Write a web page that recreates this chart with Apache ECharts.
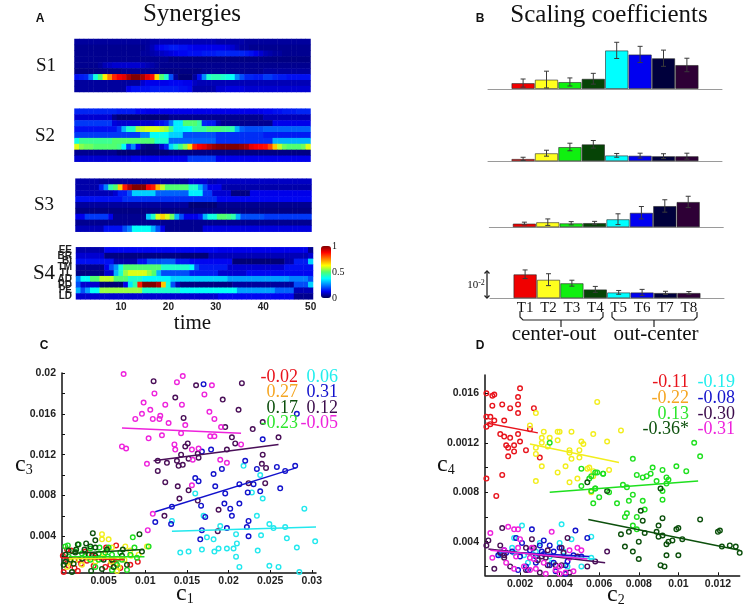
<!DOCTYPE html>
<html lang="en">
<head>
    <meta charset="UTF-8">
    <title>Synergies and scaling coefficients</title>
    <script src="https://cdn.jsdelivr.net/npm/echarts@6/dist/echarts.min.js"></script>
    <style>
        html, body { margin: 0; padding: 0; background: #fff; }
        #main { width: 751px; height: 611px; }
    </style>
</head>
<body>
<div id="main"></div>
<script type="text/javascript">
// synergy maps, 9 muscles x 50 time samples, in percent of the colour scale
var muscles = ['EE', 'BR', 'BI', 'TM', 'TL', 'AD', 'PD', 'PE', 'LD'];
var s1 = [
    [6,6,6,6,6,6,6,6,6,6, 6,6,6,6,6,6,7,7,8,8, 8,8,8,8,8,8,8,8,8,8, 7,7,7,7,7,7,6,6,6,6, 6,6,6,6,6,6,6,6,6,6],
    [5,5,5,5,5,5,5,5,5,5, 5,5,5,5,5,6,8,11,13,14, 15,15,14,14,13,12,12,12,12,12, 12,12,11,10,8,6,6,5,5,5, 5,5,5,5,5,5,5,5,5,5],
    [5,5,5,5,5,5,5,5,5,5, 5,5,5,5,6,6,7,8,9,10, 11,12,13,13,14,14,14,15,15,15, 16,16,16,16,16,16,15,14,12,10, 8,7,6,6,5,5,5,5,5,5],
    [5,5,5,5,5,5,5,5,5,5, 5,5,5,5,5,5,5,5,5,5, 4,4,4,4,4,4,4,4,4,4, 4,4,4,4,4,4,4,4,4,4, 4,4,4,4,4,4,4,4,4,4],
    [5,5,5,5,5,6,8,9,10,10, 10,10,10,10,9,8,7,6,5,5, 5,5,5,5,5,5,5,5,5,5, 5,5,5,5,5,5,5,5,5,5, 5,5,5,5,5,5,5,5,5,5],
    [4,4,4,4,4,4,4,4,4,4, 5,5,5,5,5,5,5,5,4,4, 4,4,4,4,4,4,4,5,5,5, 5,5,5,5,5,5,5,5,5,5, 6,6,6,6,6,6,6,6,6,6],
    [14,15,16,24,40,50,64,74,84,88, 90,96,100,100,96,90,86,66,50,42, 20,6,3,3,3,6,14,26,42,44, 44,42,40,38,26,20,16,16,15,15, 18,18,16,15,15,14,14,14,14,14],
    [6,6,6,6,6,6,6,6,6,6, 6,6,6,6,10,12,12,12,12,12, 13,13,13,12,12,9,8,8,8,8, 8,8,8,8,8,8,8,8,8,8, 8,8,8,8,8,8,8,8,8,8],
    [6,6,6,6,6,6,6,6,6,6, 6,12,14,14,14,14,15,15,15,15, 15,15,14,14,13,7,7,7,7,7, 10,10,11,11,11,11,10,10,10,10, 10,10,10,10,10,10,10,10,10,10]
];
var s2 = [
    [16,16,16,16,16,16,16,16,16,15, 15,15,15,13,13,12,12,12,12,12, 12,12,12,12,12,12,12,12,12,12, 12,12,12,12,12,12,12,12,12,12, 13,13,14,14,15,15,15,16,16,16],
    [10,10,10,10,10,10,10,10,5,3, 3,3,3,3,3,3,3,3,3,3, 5,5,5,5,5,5,5,5,5,5, 5,5,5,5,5,5,5,5,5,5, 8,8,8,8,8,8,8,8,8,8],
    [18,18,18,18,18,18,18,18,11,10, 10,10,10,10,10,10,10,12,14,16, 24,36,36,50,50,50,46,16,15,15, 8,5,5,5,5,5,5,5,5,5, 5,5,12,12,12,12,12,12,12,12],
    [14,14,14,14,14,14,14,14,14,18, 30,42,42,56,58,60,60,60,58,56, 48,36,36,37,38,45,46,46,50,50, 50,48,47,45,30,22,20,20,20,20, 22,22,22,22,22,22,22,22,22,22],
    [18,18,18,18,18,18,18,18,18,18, 18,18,18,18,25,25,38,38,39,38, 33,33,33,20,20,20,20,20,20,20, 17,17,17,17,17,17,17,17,17,17, 15,15,15,15,15,15,15,15,15,15],
    [40,47,47,47,47,47,47,47,50,50, 50,50,50,50,50,50,50,42,42,42, 22,22,22,22,22,22,22,22,22,22, 17,17,17,17,17,17,17,17,17,17, 17,17,30,30,30,30,30,30,30,30],
    [60,54,52,52,50,50,50,50,50,48, 38,18,26,12,5,4,4,5,10,16, 34,42,48,54,66,84,88,90,94,97, 99,100,100,100,100,98,96,90,88,87, 86,80,68,58,52,50,50,50,52,60],
    [5,5,5,5,5,5,5,5,5,3, 3,3,3,3,3,3,3,3,3,3, 4,4,4,4,4,4,4,4,4,4, 4,4,4,4,4,4,4,4,4,4, 4,4,4,4,4,4,4,4,4,4],
    [10,10,10,10,10,10,10,10,10,10, 10,10,12,12,12,12,12,12,12,12, 12,12,12,12,18,18,18,18,18,18, 12,12,12,12,12,12,12,12,12,12, 12,12,12,12,12,12,12,12,12,12]
];
var s3 = [
    [7,7,7,7,7,6,6,6,6,6, 6,6,6,6,6,6,6,6,6,6, 6,6,6,6,10,10,10,10,8,8, 9,9,9,9,9,9,9,9,9,9, 9,9,9,9,9,9,9,9,9,9],
    [7,7,7,7,7,15,25,45,50,67, 85,95,100,100,100,88,85,70,58,50, 50,50,50,50,42,42,30,20,12,12, 12,7,7,7,7,7,7,7,7,7, 7,7,7,7,7,7,7,7,7,7],
    [8,8,8,8,8,8,8,8,10,15, 15,20,33,33,33,33,33,22,22,22, 22,22,22,22,36,36,36,18,18,10, 10,10,10,4,4,4,4,12,12,12, 12,12,12,12,12,12,12,12,12,12],
    [14,14,14,14,14,14,14,14,14,14, 17,17,17,17,17,17,17,17,17,17, 17,17,17,17,17,17,17,17,17,17, 13,13,13,13,13,13,13,13,13,13, 13,13,13,13,13,13,13,13,13,13],
    [6,6,6,6,6,6,6,6,6,6, 6,6,6,6,6,6,6,6,6,6, 6,6,6,6,3,3,3,3,3,3, 5,5,5,5,5,5,5,5,5,5, 5,5,5,5,5,5,5,5,5,5],
    [4,4,4,4,4,4,4,4,4,4, 4,4,4,4,4,4,4,4,4,4, 4,4,4,4,4,4,4,4,4,4, 4,4,4,4,4,4,4,4,4,4, 4,4,4,4,4,4,4,4,4,4],
    [12,12,18,18,18,18,18,12,5,5, 5,5,5,5,5,32,42,60,67,60, 52,30,20,12,12,12,15,30,40,40, 50,50,48,45,30,20,20,20,20,20, 18,18,18,18,18,18,18,18,18,18],
    [5,5,5,5,5,5,5,5,5,5, 5,5,5,5,5,5,5,5,5,5, 5,5,5,5,5,5,5,5,5,5, 5,5,5,5,5,5,5,5,5,5, 5,5,5,5,5,5,5,5,5,5],
    [8,8,8,8,8,8,14,14,14,14, 20,25,38,38,38,38,30,20,12,5, 5,5,5,5,5,5,5,11,11,11, 11,11,11,11,11,11,11,11,11,11, 11,11,11,11,11,11,11,11,11,11]
];
var s4 = [
    [7,7,7,7,7,7,13,13,13,13, 13,13,13,13,13,13,13,13,13,13, 13,13,13,13,13,13,13,13,13,13, 12,12,12,12,12,12,12,12,12,12, 12,12,12,12,12,12,12,12,12,5],
    [10,10,10,10,10,10,4,4,4,4, 4,4,4,4,4,4,4,4,4,4, 4,4,3,3,3,3,3,3,8,8, 8,8,8,8,8,8,8,8,8,8, 8,8,8,8,8,8,8,8,8,10],
    [14,14,14,14,14,14,14,14,7,7, 7,7,7,14,14,20,20,20,22,22, 22,15,15,15,13,13,13,13,13,13, 13,13,13,3,3,3,3,3,3,3, 3,3,3,3,7,7,15,15,15,33],
    [5,5,5,5,5,5,12,20,27,40, 50,50,50,50,50,50,50,50,42,42, 42,42,42,42,38,20,15,15,15,15, 15,15,10,10,10,10,10,10,10,10, 10,10,10,10,14,14,14,14,14,14],
    [4,4,4,4,4,4,10,10,30,42, 55,60,60,60,60,55,50,30,20,20, 20,20,20,20,15,15,15,15,15,15, 10,10,10,10,10,10,13,13,13,13, 13,13,13,13,13,13,13,13,13,13],
    [25,38,38,50,50,58,58,58,50,50, 50,42,42,42,37,37,37,37,37,37, 33,33,33,33,33,33,33,33,33,33, 33,33,28,28,28,28,28,28,28,28, 28,28,28,28,28,25,25,25,25,20],
    [20,10,10,10,10,3,3,3,3,3, 12,35,45,85,100,100,100,95,68,40, 20,8,4,4,4,4,4,4,4,4, 4,4,4,6,6,6,6,6,6,6, 6,6,6,6,6,6,20,20,20,33],
    [30,20,28,38,38,55,55,55,55,55, 55,55,55,55,42,42,42,42,42,42, 42,42,38,38,38,38,38,38,38,38, 38,38,38,38,28,28,28,28,28,28, 28,28,22,22,22,22,8,8,8,8],
    [10,10,10,10,10,10,10,10,10,10, 10,10,10,10,10,10,10,10,10,10, 10,10,10,10,10,10,10,10,10,10, 13,13,13,13,13,13,13,13,13,13, 13,13,13,13,13,13,5,5,5,5]
];
var colorbarTicks = [0, 0.5, 1];

// scaling coefficients
var trials = ['', 'T1', 'T2', 'T3', 'T4', 'T5', 'T6', 'T7', 'T8', ''];
var bar1Vals = [0.0022, 0.0035, 0.0026, 0.0038, 0.0143, 0.0128, 0.0114, 0.0089];
var bar1Errs = [0.0015, 0.0031, 0.0015, 0.002, 0.003, 0.003, 0.003, 0.0025];
var bar2Vals = [0.0009, 0.003, 0.0053, 0.0063, 0.0022, 0.0021, 0.0019, 0.0019];
var bar2Errs = [0.0006, 0.0011, 0.0014, 0.0014, 0.0007, 0.0009, 0.0009, 0.0011];
var bar3Vals = [0.0014, 0.0019, 0.0015, 0.0016, 0.003, 0.0054, 0.0079, 0.0094];
var bar3Errs = [0.0005, 0.0012, 0.0006, 0.0006, 0.002, 0.0023, 0.0023, 0.0021];
var bar4Vals = [0.0089, 0.0069, 0.0056, 0.0033, 0.0022, 0.0022, 0.002, 0.002];
var bar4Errs = [0.0016, 0.0022, 0.0011, 0.0011, 0.0007, 0.0011, 0.0006, 0.0005];
var barColors = ['#f00000', '#ffff1e', '#10f010', '#064406', '#00ffff', '#0000f0', '#00003c', '#2e0036'];

// panel C, c1 vs c3
var cRed = [[.0065,.0031],[.0053,.0029],[.0011,.0026],[.0006,.0027],[.0001,.0021],[.0028,.0025],[.0006,.0017],[.0091,.0015],[.0065,.0013],[.0036,.0021],[.003,.0016],[.0048,.0018],[.004,.0019],[.0062,.0017],[.002,.0017],[.0008,.0011],[.0015,.0009],[.0019,.0006],[.0002,.0005],[.0038,.0011],[.0052,.001],[.0082,.0012],[.0058,.0012],[.0023,.0013],[.007,.0009]];
var cYellow = [[.0048,.0042],[.0056,.0037],[.0048,.0037],[.0102,.003],[.0076,.003],[.0082,.0026],[.0092,.0022],[.0083,.0021],[.006,.0029],[.005,.0023],[.0006,.001],[.0016,.0017],[.0032,.0018],[.004,.0015],[.0024,.0012],[.0059,.0015],[.0068,.001],[.001,.0015],[.0066,.0006],[.0075,.0017]];
var cGreen = [[.0085,.0039],[.0104,.003],[.0087,.0029],[.0004,.003],[.0007,.0031],[.002,.0032],[.0034,.0028],[.0045,.0029],[.0052,.0024],[.007,.0024],[.0082,.0022],[.0056,.0029],[.0016,.0025],[.0044,.0023],[.0028,.0021],[.009,.0019],[.0055,.002],[.0008,.002],[.0067,.0018],[.0072,.0017],[.006,.0022],[.0034,.0017],[.0044,.0017],[.0078,.0007],[.0066,.0012],[.004,.001],[.006,.0007],[.0024,.0023]];
var cDarkGreen = [[.0037,.0043],[.0093,.0042],[.004,.0036],[.0029,.0033],[.0019,.0032],[.0034,.003],[.0008,.0026],[.0017,.0027],[.0027,.0027],[.004,.0029],[.0016,.0024],[.0004,.0022],[.0032,.0022],[.0073,.0027],[.0096,.0025],[.0072,.0021],[.004,.0021],[.0054,.0027],[.001,.0017],[.005,.0017],[.0004,.0015],[.0024,.0018],[.0078,.0012],[.0062,.001],[.0014,.0013],[.0048,.0008],[.0035,.0006],[.0002,.0012],[.0012,.0005],[.006,.0017]];
var cCyan = [[.016,.0082],[.017,.006],[.0132,.0055],[.019,.005],[.0209,.0042],[.0174,.0039],[.0182,.0037],[.021,.0033],[.0142,.0024],[.0152,.0025],[.0168,.0027],[.0183,.0025],[.0188,.0028],[.0198,.0028],[.0206,.0028],[.0209,.002],[.0213,.001],[.0218,.0109],[.0238,.01],[.0228,.0083],[.0241,.0077],[.0291,.0067],[.0234,.006],[.0249,.0052],[.0254,.0048],[.0268,.0049],[.0239,.0041],[.027,.0038],[.0304,.0035],[.0282,.0029],[.0235,.0026],[.0249,.0011],[.026,.001],[.0285,.0005]];
var cBlue = [[.017,.0189],[.0168,.0123],[.0179,.0125],[.0192,.0106],[.0182,.0101],[.016,.0097],[.0164,.0094],[.0184,.0089],[.0196,.0082],[.0213,.0091],[.0132,.0069],[.0167,.007],[.0195,.0072],[.0202,.0067],[.0213,.0072],[.0204,.006],[.0112,.0054],[.0131,.0052],[.0172,.0059],[.0198,.0048],[.0168,.0046],[.0166,.0037],[.0282,.016],[.0241,.0135],[.022,.0114],[.0258,.0108],[.0234,.0106],[.028,.0109],[.0268,.0104],[.023,.0091],[.0262,.0087],[.0238,.0084],[.0223,.0083],[.0224,.0055],[.0222,.0049],[.0224,.004]];
var cPurple = [[.011,.0192],[.0161,.0188],[.0193,.0174],[.0136,.0176],[.0212,.0164],[.0146,.0156],[.0196,.0147],[.0204,.0137],[.0208,.0131],[.0151,.0131],[.0148,.0128],[.0198,.0125],[.0143,.012],[.0163,.0121],[.0164,.0117],[.0152,.0116],[.0115,.0114],[.0126,.0112],[.0138,.0114],[.014,.0109],[.0145,.011],[.0115,.0104],[.0124,.0093],[.0139,.0089],[.0152,.0085],[.0163,.0075],[.0141,.0077],[.0188,.0066],[.0123,.006],[.0187,.0045],[.0216,.019],[.0241,.0152],[.0229,.0145],[.026,.0137],[.0241,.012],[.024,.0111],[.0245,.0107],[.0244,.0092],[.0224,.0092]];
var cMagenta = [[.0074,.0199],[.0145,.0197],[.0138,.0191],[.018,.0188],[.0111,.018],[.0171,.0179],[.0098,.0171],[.0124,.0169],[.0144,.0169],[.0106,.0164],[.0177,.0162],[.0096,.016],[.0088,.0155],[.0109,.0155],[.0117,.0155],[.0118,.0158],[.0183,.0155],[.0128,.0151],[.0148,.0149],[.0191,.0147],[.0143,.0141],[.012,.0139],[.0104,.0136],[.0178,.0138],[.0183,.0138],[.0072,.0128],[.0077,.0126],[.0135,.013],[.0136,.0125],[.0156,.0125],[.0164,.0126],[.0102,.0111],[.019,.0115],[.0198,.0112],[.0157,.0115],[.0156,.009],[.0109,.0062],[.0103,.0046],[.0215,.013]];
var cFits = [
    [[.0002, .0019], [.0075, .0017]],
    [[.0008, .0018], [.0075, .0019]],
    [[.0008, .002], [.0099, .002]],
    [[.001, .0023], [.0098, .0027]],
    [[.0132, .0045], [.0305, .0049]],
    [[.0112, .0064], [.0281, .0107]],
    [[.011, .0114], [.026, .013]],
    [[.0072, .0146], [.0215, .0141]]
];
var cXLabels = [.005, .01, .015, .02, .025, .03];
var cYLabels = [.004, .008, .012, .016, .02];
var cYTicks = [.002, .004, .006, .008, .01, .012, .014, .016, .018, .02];
var cCorrLeft = ['-0.02', '0.27', '0.17', '-0.23'];
var cCorrRight = ['0.06', '0.31', '0.12', '-0.05'];

// panel D, c2 vs c4
var dRed = [[.001,.0175],[.002,.0164],[.0003,.016],[.0006,.0158],[.0007,.0159],[.0019,.0157],[.0006,.015],[.0011,.0151],[.0019,.0151],[.0015,.0148],[.0027,.0148],[.0019,.0144],[.0005,.0141],[.0003,.0141],[.0007,.0138],[.0012,.0138],[.0005,.0135],[.0003,.0133],[.0025,.0131],[.001,.0127],[.0019,.0127],[.0012,.0125],[.0015,.0124],[.002,.0121],[.0013,.0118],[.0014,.0116],[.0017,.0118],[.0017,.0113],[.0023,.0114],[.0014,.0109],[.003,.0108],[.0011,.0094],[.0003,.0091],[.0008,.0077]];
var dYellow = [[.0059,.0153],[.0028,.0144],[.0025,.0134],[.0032,.0129],[.0039,.0129],[.004,.0129],[.0046,.0129],[.0057,.0127],[.0031,.0124],[.0035,.0124],[.0031,.012],[.0039,.0122],[.0051,.0121],[.0052,.0119],[.0064,.0121],[.0028,.0116],[.0034,.0117],[.0045,.0114],[.005,.0114],[.0045,.0112],[.0028,.0111],[.005,.0108],[.0046,.0107],[.0031,.0101],[.0043,.0101],[.0039,.0096],[.0055,.01],[.0054,.0099],[.0057,.0097],[.0065,.0098],[.0028,.0089],[.0049,.0091],[.0057,.0093],[.0045,.0088],[.0056,.008],[.0071,.013]];
var dGreen = [[.0108,.012],[.0111,.0109],[.0077,.0107],[.0087,.01],[.0092,.0098],[.0099,.0101],[.0104,.0097],[.0086,.0095],[.0079,.0094],[.0082,.0092],[.0084,.0093],[.0094,.0092],[.0095,.009],[.0089,.0089],[.0094,.0087],[.0062,.0095],[.0059,.0096],[.0056,.0093],[.0072,.0086],[.0074,.0084],[.0092,.0081],[.0058,.0083],[.0077,.0078],[.0056,.0081],[.006,.0076],[.0057,.0071],[.0069,.0071],[.0075,.0073],[.0082,.0073],[.0092,.0074],[.0083,.0066],[.0074,.0063],[.0073,.006],[.0079,.006],[.0077,.0053],[.0079,.005],[.0035,.012],[.0051,.0099],[.0058,.0096],[.0062,.0095],[.0055,.0091],[.0051,.0085],[.0058,.0083],[.0065,.008]];
var dDarkGreen = [[.0091,.0083],[.0064,.0081],[.0081,.0065],[.0092,.0059],[.0082,.0057],[.0111,.0058],[.009,.0053],[.01,.0051],[.0099,.005],[.0089,.0048],[.0075,.0048],[.0083,.0047],[.0071,.0046],[.012,.0048],[.0121,.0049],[.0092,.0045],[.009,.0044],[.0102,.0042],[.0097,.0041],[.0095,.004],[.0094,.0038],[.008,.004],[.0122,.0036],[.0126,.0037],[.0129,.0036],[.0131,.0031],[.0073,.0036],[.0077,.0032],[.0094,.0029],[.01,.0029],[.008,.0026],[.0091,.0021],[.0093,.002],[.0054,.0088]];
var dCyan = [[.0021,.0053],[.0041,.0054],[.0017,.0043],[.0016,.0035],[.0046,.0042],[.0056,.0044],[.004,.0039],[.0028,.0032],[.0017,.0031],[.0022,.0029],[.0035,.0028],[.0027,.0029],[.0051,.002],[.0056,.0027],[.0044,.002],[.0024,.0023],[.0036,.0023],[.001,.0029],[.003,.0039],[.0042,.0032]];
var dBlue = [[.0026,.005],[.0048,.0049],[.0054,.0043],[.0018,.0043],[.0021,.0039],[.0032,.0041],[.0035,.0037],[.003,.0037],[.0025,.0033],[.001,.0031],[.0009,.0029],[.0013,.0031],[.0016,.0032],[.002,.0028],[.004,.0035],[.0037,.0032],[.0031,.0032],[.0032,.003],[.0028,.0028],[.0047,.0029],[.0051,.0028],[.0023,.002],[.0019,.0017],[.0035,.0021],[.0044,.0024],[.0043,.0021],[.0037,.0023],[.0024,.0017],[.0038,.0016],[.0043,.0014],[.0012,.0033],[.0028,.0023]];
var dPurple = [[.0011,.0051],[.0026,.0042],[.0044,.0043],[.0004,.0041],[.0003,.0037],[.001,.0037],[.0023,.0035],[.001,.0031],[.0012,.0029],[.0027,.0035],[.0041,.0035],[.0034,.0033],[.0012,.0027],[.0015,.002],[.0007,.0018],[.0031,.0028],[.0033,.0027],[.0029,.0025],[.0034,.0021],[.0038,.0021],[.0041,.0021],[.0064,.0032],[.0054,.002],[.0042,.0031],[.0023,.0017],[.003,.0015],[.0045,.0015],[.0049,.0028],[.0058,.0024]];
var dMagenta = [[.0005,.0047],[.0014,.0052],[.0017,.005],[.0019,.005],[.002,.0042],[.0036,.0048],[.0006,.0027],[.0013,.0023],[.0012,.0033],[.0019,.0035],[.0026,.0035],[.0025,.0027],[.0027,.0026],[.0022,.002],[.0032,.0023],[.004,.002],[.0049,.0035],[.0051,.0033],[.0045,.0033],[.0045,.0027],[.0038,.0017],[.0025,.0017],[.0028,.0018],[.0047,.0016],[.0043,.0015],[.0018,.0028],[.0033,.0014],[.004,.0014],[.0017,.0018]];
var dFits = [
    [[.0003, .0136], [.0029, .0128]],
    [[.0025, .0119], [.007, .0104]],
    [[.0035, .008], [.011, .0089]],
    [[.00545, .0058], [.0131, .0033]],
    [[.001, .0032], [.0058, .0026]],
    [[.0009, .0032], [.0055, .0028]],
    [[.0004, .0034], [.0063, .0023]],
    [[.0005, .0033], [.0054, .0026]]
];
var dXLabels = [.002, .004, .006, .008, .01, .012];
var dYValues = [.004, .008, .012, .016];
var dYLabels = ['0.004', '0.008', '0.0012', '0.016'];   // 0.0012 is what the figure prints
var dYTicks = [.002, .004, .006, .008, .01, .012, .014, .016];
var dCorrLeft = ['-0.11', '-0.22', '0.13', '-0.36*'];
var dCorrRight = ['-0.19', '-0.08', '-0.30', '-0.31'];

var scatterColors = ['#e8141c', '#f2ee1c', '#1ee01e', '#0c500c', '#22e8ee', '#1212cc', '#4a0f58', '#ee22dc'];
var corrColors = ['#e8141c', '#f5a623', '#0c500c', '#2ee62e', '#22eeee', '#1212cc', '#3c0c4c', '#ee22dc'];
var dCorrColors = ['#e8141c', '#f5a623', '#2ee62e', '#0c500c', '#22eeee', '#1212cc', '#3c0c4c', '#ee22dc'];

var SERIF = '"Liberation Serif", serif';
var SANS = '"Liberation Sans", sans-serif';

var myChart = echarts.init(document.getElementById('main'));

var grids = [], xAxes = [], yAxes = [], series = [];

function hiddenAxis(obj) {
    obj.show = false;
    return obj;
}

// heatmaps
var timeCats = [];
for (var t = 1; t <= 50; t++) timeCats.push(String(t));

function addHeatmap(rows, left, top, width, height, withLabels) {
    var idx = grids.length;
    grids.push({ left: left, top: top, width: width, height: height });
    var data = [];
    for (var r = 0; r < rows.length; r++) {
        for (var c = 0; c < rows[r].length; c++) {
            data.push([c, r, rows[r][c] / 100]);
        }
    }
    var xa = { gridIndex: idx, type: 'category', data: timeCats, show: !!withLabels,
        axisLine: { show: false }, axisTick: { show: false }, splitLine: { show: false },
        axisLabel: { interval: function (i) { return (i + 1) % 10 === 0; }, margin: 3,
            fontFamily: SANS, fontSize: 10, fontWeight: 'bold', color: '#222', hideOverlap: false } };
    var ya = { gridIndex: idx, type: 'category', data: muscles, inverse: true, show: !!withLabels,
        axisLine: { show: false }, axisTick: { show: false }, splitLine: { show: false },
        axisLabel: { interval: 0, margin: 4, fontFamily: SANS, fontSize: 10, fontWeight: 'bold', color: '#222', hideOverlap: false } };
    xAxes.push(xa);
    yAxes.push(ya);
    series.push({ type: 'heatmap', xAxisIndex: idx, yAxisIndex: idx, data: data, silent: true, progressive: 0 });
}
addHeatmap(s1, 74.5, 39, 236, 53);
addHeatmap(s2, 74.5, 108.7, 236, 53);
addHeatmap(s3, 75.5, 178.7, 236, 53);
addHeatmap(s4, 76, 247.3, 237, 52, true);
var heatIdx = [0, 1, 2, 3];

// axis next to the colour bar
grids.push({ left: 321, top: 246, width: 10, height: 52 });
xAxes.push(hiddenAxis({ gridIndex: 4, type: 'value' }));
yAxes.push({ gridIndex: 4, type: 'value', min: 0, max: 1, position: 'right',
    splitLine: { show: false }, axisLine: { show: false }, axisTick: { show: false },
    axisLabel: { customValues: colorbarTicks, margin: 1, fontFamily: SERIF, fontSize: 10, color: '#111' } });

// bars
function addBars(vals, errs, left, baseline, withLabels) {
    var idx = grids.length;
    var h = 54;   // 0.02 on the axis, the 10^-2 bracket is 27 px
    grids.push({ left: left, top: baseline - h, width: 234, height: h });
    xAxes.push({ gridIndex: idx, type: 'category', data: trials,
        axisLine: { lineStyle: { color: '#9a9a9a', width: 1 } }, axisTick: { show: false },
        axisLabel: { show: !!withLabels, interval: 0, margin: 2, fontFamily: SERIF, fontSize: 15, color: '#111' } });
    yAxes.push(hiddenAxis({ gridIndex: idx, type: 'value', min: 0, max: 0.02 }));
    var barData = [{ value: null }], errData = [];
    for (var i = 0; i < vals.length; i++) {
        barData.push({ value: vals[i], itemStyle: { color: barColors[i], borderColor: 'rgba(40,40,40,.6)', borderWidth: 1 } });
        errData.push([i + 1, Math.max(vals[i] - errs[i], 0), vals[i] + errs[i]]);
    }
    barData.push({ value: null });
    series.push({ type: 'bar', xAxisIndex: idx, yAxisIndex: idx, data: barData, barWidth: '100%', silent: true });
    series.push({ type: 'custom', xAxisIndex: idx, yAxisIndex: idx, data: errData, silent: true,
        encode: { x: 0, y: [1, 2] }, z: 5,
        renderItem: function (params, api) {
            var lo = api.coord([api.value(0), api.value(1)]);
            var hi = api.coord([api.value(0), api.value(2)]);
            var sty = { stroke: '#3a3a3a', lineWidth: 1, fill: null };
            return { type: 'group', children: [
                { type: 'line', shape: { x1: lo[0], y1: lo[1], x2: hi[0], y2: hi[1] }, style: sty },
                { type: 'line', shape: { x1: lo[0] - 2.5, y1: lo[1], x2: lo[0] + 2.5, y2: lo[1] }, style: sty },
                { type: 'line', shape: { x1: hi[0] - 2.5, y1: hi[1], x2: hi[0] + 2.5, y2: hi[1] }, style: sty }
            ] };
        } });
}
addBars(bar1Vals, bar1Errs, 488, 89);
addBars(bar2Vals, bar2Errs, 488, 161.3);
addBars(bar3Vals, bar3Errs, 489.3, 227.3);
addBars(bar4Vals, bar4Errs, 490, 298.3, true);

// scatter panels
function addScatterPanel(box, xr, yr, xLabels, yLabels, yTicks, yFmt, groups, fits) {
    var idx = grids.length;
    grids.push(box);
    var lineSty = { color: '#111', width: 1.5 };
    xAxes.push({ gridIndex: idx, type: 'value', min: xr[0], max: xr[1], splitLine: { show: false },
        axisLine: { onZero: false, lineStyle: lineSty },
        axisTick: { inside: true, length: 3, customValues: xLabels, lineStyle: { color: '#111' } },
        axisLabel: { customValues: xLabels, margin: 3, fontFamily: SANS, fontSize: 10.5, fontWeight: 'bold', color: '#222',
            formatter: function (v) { return String(v); } } });
    yAxes.push({ gridIndex: idx, type: 'value', min: yr[0], max: yr[1], splitLine: { show: false },
        axisLine: { onZero: false, lineStyle: lineSty },
        axisTick: { inside: true, length: 3, customValues: yTicks, lineStyle: { color: '#111' } },
        axisLabel: { customValues: yLabels, margin: 6, fontFamily: SANS, fontSize: 10.5, fontWeight: 'bold', color: '#222', formatter: yFmt } });
    for (var i = 0; i < groups.length; i++) {
        series.push({ type: 'scatter', xAxisIndex: idx, yAxisIndex: idx, data: groups[i], symbol: 'circle', symbolSize: 4.6, silent: true,
            itemStyle: { color: 'rgba(255,255,255,0)', borderColor: scatterColors[i], borderWidth: 1.4, opacity: 1 } });
    }
    for (var j = 0; j < fits.length; j++) {
        series.push({ type: 'line', xAxisIndex: idx, yAxisIndex: idx, data: fits[j], symbol: 'none', silent: true, z: 3,
            lineStyle: { color: scatterColors[j], width: 1.5 } });
    }
}
addScatterPanel({ left: 62, top: 373, width: 254, height: 200 }, [0, 0.0305], [0.0004, 0.02],
    cXLabels, cYLabels, cYTicks, function (v) { return String(v); },
    [cRed, cYellow, cGreen, cDarkGreen, cCyan, cBlue, cPurple, cMagenta], cFits);
addScatterPanel({ left: 485, top: 375, width: 254.7, height: 200.3 }, [0.00023, 0.0131], [0.00128, 0.01748],
    dXLabels, dYValues, dYTicks, function (v) { return dYLabels[Math.round(v / 0.004) - 1]; },
    [dRed, dYellow, dGreen, dDarkGreen, dCyan, dBlue, dPurple, dMagenta], dFits);

// text and annotations
function txt(x, y, text, size, opts) {
    opts = opts || {};
    return { type: 'text', silent: true, z: 20, style: {
        x: x, y: y, text: text, fill: opts.color || '#111', fontSize: size,
        fontFamily: opts.family || SERIF, fontWeight: opts.weight || 'normal',
        align: opts.align || 'center', verticalAlign: 'middle', rich: opts.rich } };
}
function poly(points, width) {
    return { type: 'polyline', silent: true, z: 20, shape: { points: points },
        style: { stroke: '#222', lineWidth: width || 1.2, fill: null } };
}
function subLabel(x, y, c, n) {
    return txt(x, y, '{a|' + c + '}{b|' + n + '}', 24, { align: 'left', rich: {
        a: { fontFamily: SERIF, fontSize: 24, fill: '#111', color: '#111' },
        b: { fontFamily: SERIF, fontSize: 14, fill: '#111', color: '#111', verticalAlign: 'bottom', padding: [10, 0, 0, 0] }
    } });
}

var graphics = [
    txt(192, 14, 'Synergies', 25),
    txt(609, 15, 'Scaling coefficients', 25),
    txt(40, 19, 'A', 12, { family: SANS, weight: 'bold' }),
    txt(480, 19, 'B', 12, { family: SANS, weight: 'bold' }),
    txt(44, 346, 'C', 12, { family: SANS, weight: 'bold' }),
    txt(480, 346, 'D', 12, { family: SANS, weight: 'bold' }),
    txt(46, 66, 'S1', 19),
    txt(45, 136, 'S2', 19),
    txt(44, 205, 'S3', 19),
    txt(44, 273, 'S4', 21),
    txt(192.5, 323, 'time', 21),
    txt(554, 334, 'center-out', 21),
    txt(656, 334, 'out-center', 21),
    txt(476, 285, '{a|10}{b|-2}', 11, { rich: {
        a: { fontFamily: SERIF, fontSize: 11, color: '#111', fill: '#111' },
        b: { fontFamily: SERIF, fontSize: 8, color: '#111', fill: '#111', padding: [0, 0, 5, 0] } } }),
    poly([[487, 271], [487, 298]], 1.3),
    poly([[484.5, 273.5], [487, 271], [489.5, 273.5]], 1.3),
    poly([[484.5, 295.5], [487, 298], [489.5, 295.5]], 1.3),
    poly([[520, 312], [520, 317], [523, 320], [600, 320], [603, 317], [603, 312]]),
    poly([[561, 320], [561, 327]]),
    poly([[612, 312], [612, 317], [615, 320], [694, 320], [697, 317], [697, 312]]),
    poly([[654, 320], [654, 327]]),
    subLabel(176, 594, 'c', '1'),
    subLabel(15, 465, 'c', '3'),
    subLabel(437, 465, 'c', '4'),
    subLabel(607, 595, 'c', '2')
];
var cRows = [377, 392, 408, 423], dRows = [382, 398, 414, 429];
for (var k = 0; k < 4; k++) {
    graphics.push(txt(298, cRows[k], cCorrLeft[k], 18, { align: 'right', color: corrColors[k] }));
    graphics.push(txt(338, cRows[k], cCorrRight[k], 18, { align: 'right', color: corrColors[k + 4] }));
    graphics.push(txt(689, dRows[k], dCorrLeft[k], 18, { align: 'right', color: dCorrColors[k] }));
    graphics.push(txt(735, dRows[k], dCorrRight[k], 18, { align: 'right', color: dCorrColors[k + 4] }));
}

var option = {
    animation: false,
    grid: grids,
    xAxis: xAxes,
    yAxis: yAxes,
    visualMap: {
        type: 'continuous', seriesIndex: heatIdx, min: 0, max: 1, orient: 'vertical',
        left: 321, top: 246, padding: 0, itemWidth: 10, itemHeight: 52, calculable: false, hoverLink: false,
        text: null, showLabel: false,
        inRange: { color: ['#000050', '#0000f0', '#0080ff', '#00ffff', '#50ff70', '#ffff00', '#ff8000', '#ff0000', '#800000'] }
    },
    series: series,
    graphic: graphics
};
myChart.setOption(option);
</script>
</body>
</html>
